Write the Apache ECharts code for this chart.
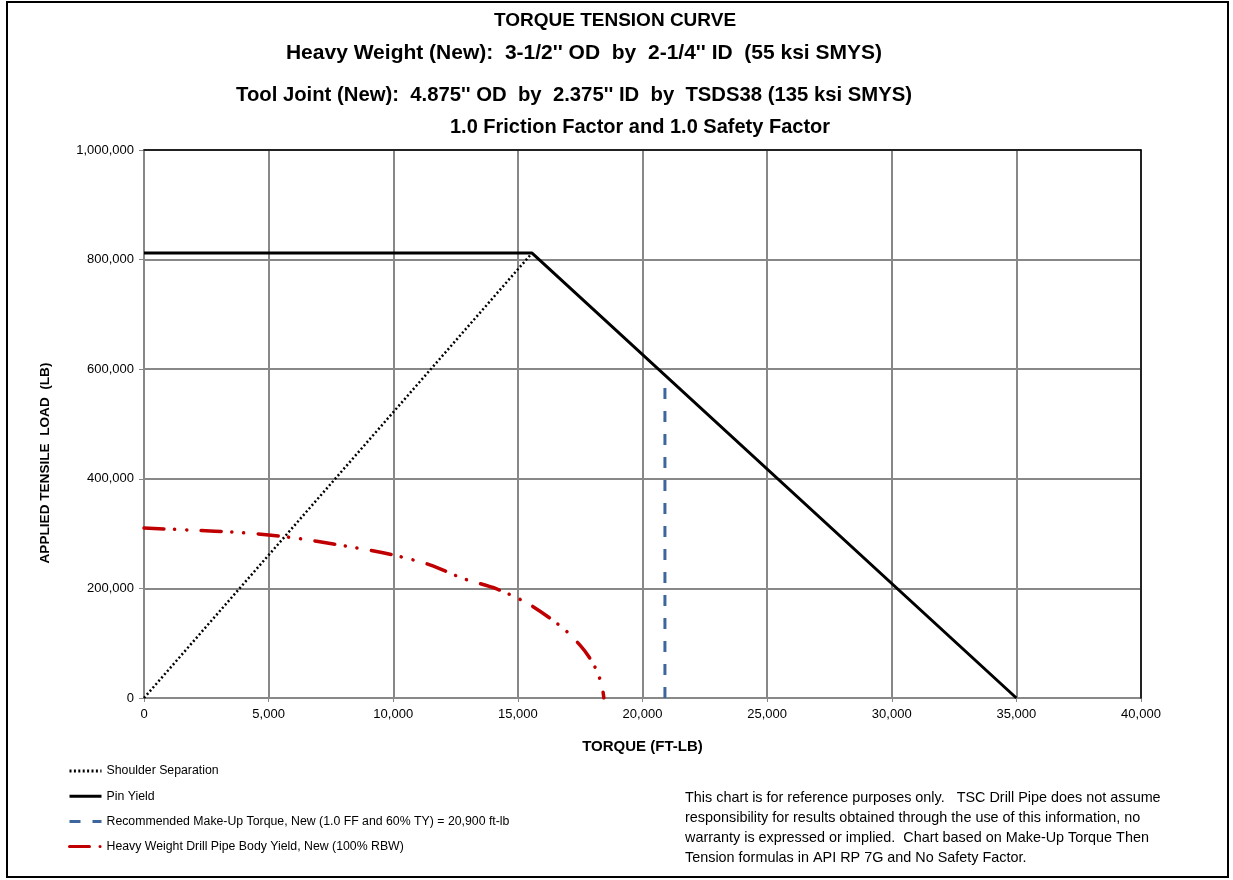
<!DOCTYPE html>
<html>
<head>
<meta charset="utf-8">
<script src="https://cdn.jsdelivr.net/npm/echarts@6/dist/echarts.min.js"></script>
<style>
html,body{margin:0;padding:0;background:#fff;}
#chart{width:1233px;height:880px;}
</style>
</head>
<body>
<div id="chart"></div>
<script>
// ---- data ----
const titleLines = [
  "TORQUE TENSION CURVE",
  "Heavy Weight (New):  3-1/2'' OD  by  2-1/4'' ID  (55 ksi SMYS)",
  "Tool Joint (New):  4.875'' OD  by  2.375'' ID  by  TSDS38 (135 ksi SMYS)",
  "1.0 Friction Factor and 1.0 Safety Factor"
];
const seriesNames = [
  "Shoulder Separation",
  "Pin Yield",
  "Recommended Make-Up Torque, New (1.0 FF and 60% TY) = 20,900 ft-lb",
  "Heavy Weight Drill Pipe Body Yield, New (100% RBW)"
];
const shoulderX = [0, 15570];
const shoulderY = [0, 812000];
const pinX = [0, 15570, 35000];
const pinY = [812000, 812000, 0];
const makeupX = [20900, 20900];
const makeupY = [0, 570000];
const bodyX = [0, 1850, 3850, 5720, 8260, 10000, 11470, 12810, 14150, 15490, 16820, 17500, 17900, 18200, 18380, 18450];
const bodyY = [310000, 306500, 302000, 294000, 276000, 261000, 243000, 218000, 199000, 170000, 127000, 96000, 72000, 46000, 20000, 0];
const xAxisName = "TORQUE (FT-LB)";
const yAxisName = "APPLIED TENSILE  LOAD  (LB)";
const noteLines = [
  "This chart is for reference purposes only.   TSC Drill Pipe does not assume",
  "responsibility for results obtained through the use of this information, no",
  "warranty is expressed or implied.  Chart based on Make-Up Torque Then",
  "Tension formulas in API RP 7G and No Safety Factor."
];

function pairs(xs, ys){ return xs.map((x,i)=>[x, ys[i]]); }

const FONT = "Liberation Sans";
const chart = echarts.init(document.getElementById('chart'));
const titleX = [615, 584, 574, 640];
const titleY = [21, 53, 95, 127];
const titleSize = [19, 21, 20.3, 20];

const graphics = [
  {type:'rect', shape:{x:7,y:2,width:1221,height:875}, style:{fill:'none', stroke:'#000', lineWidth:2}, silent:true},
];
titleLines.forEach((t,i)=>{
  graphics.push({type:'text', x:titleX[i], y:titleY[i], style:{text:t, fill:'#000', font:'bold '+titleSize[i]+'px "'+FONT+'"', textAlign:'center', textVerticalAlign:'middle'}});
});
graphics.push({type:'text', x:45, y:463, rotation:Math.PI/2, style:{text:yAxisName, fill:'#000', font:'bold 13.6px "'+FONT+'"', textAlign:'center', textVerticalAlign:'middle'}});
graphics.push({type:'text', x:685, y:788, style:{text:noteLines.join('\n'), fill:'#000', font:'14.4px "'+FONT+'"', lineHeight:20, textAlign:'left', textVerticalAlign:'top'}});

const frameAxis = {show:true, z:1, axisLine:{show:true, onZero:false, lineStyle:{color:'#000', width:1.5}},
  axisTick:{show:false}, axisLabel:{show:false}, splitLine:{show:false}};

chart.setOption({
  animation:false,
  backgroundColor:'#fff',
  grid:{left:144, right:92, top:150, bottom:182},
  graphic: graphics,
  legend:{
    orient:'vertical', left:63, top:760, itemWidth:32, itemHeight:14, itemGap:13.2,
    itemStyle:{opacity:0},
    lineStyle:{width:3},
    textStyle:{fontFamily:FONT, fontSize:12.3, color:'#000'},
    data: seriesNames,
    selectedMode:false
  },
  xAxis:[{
    type:'value', min:0, max:40000, interval:5000,
    name:xAxisName, nameLocation:'middle', nameGap:41,
    nameTextStyle:{fontFamily:FONT, fontWeight:'bold', fontSize:15, color:'#000'},
    axisLine:{show:true, lineStyle:{color:'#888', width:2}},
    axisTick:{show:true, length:4, lineStyle:{color:'#888', width:1}},
    axisLabel:{fontFamily:FONT, fontSize:13, color:'#000', margin:10, formatter:v=>v.toLocaleString('en-US')},
    splitLine:{show:true, lineStyle:{color:'#888', width:2}}
  }, Object.assign({type:'value', min:0, max:40000, position:'top'}, frameAxis)],
  yAxis:[{
    type:'value', min:0, max:1000000, interval:200000,
    axisLine:{show:true, lineStyle:{color:'#888', width:2}},
    axisTick:{show:true, length:5, lineStyle:{color:'#888', width:1}},
    axisLabel:{fontFamily:FONT, fontSize:13, color:'#000', margin:10, formatter:v=>v.toLocaleString('en-US')},
    splitLine:{show:true, lineStyle:{color:'#888', width:2}}
  }, Object.assign({type:'value', min:0, max:1000000, position:'right'}, frameAxis)],
  series:[
    {name:seriesNames[0], type:'line', data:pairs(shoulderX, shoulderY), symbol:'none', z:3,
     lineStyle:{color:'#000', width:2.5, type:[2,2.4]}, itemStyle:{color:'#000'}},
    {name:seriesNames[1], type:'line', data:pairs(pinX, pinY), symbol:'none', z:4,
     lineStyle:{color:'#000', width:3}, itemStyle:{color:'#000'}},
    {name:seriesNames[2], type:'line', data:pairs(makeupX, makeupY), symbol:'none', z:4,
     lineStyle:{color:'#3d679c', width:3, type:[11,12]}, itemStyle:{color:'#3d679c'}},
    {name:seriesNames[3], type:'line', data:pairs(bodyX, bodyY), symbol:'none', smooth:0.3, z:5,
     lineStyle:{color:'#c00000', width:3.5, type:[20,10.5,0.1,12,0.1,14.5], cap:'round'}, itemStyle:{color:'#c00000'}}
  ]
});
</script>
</body>
</html>
